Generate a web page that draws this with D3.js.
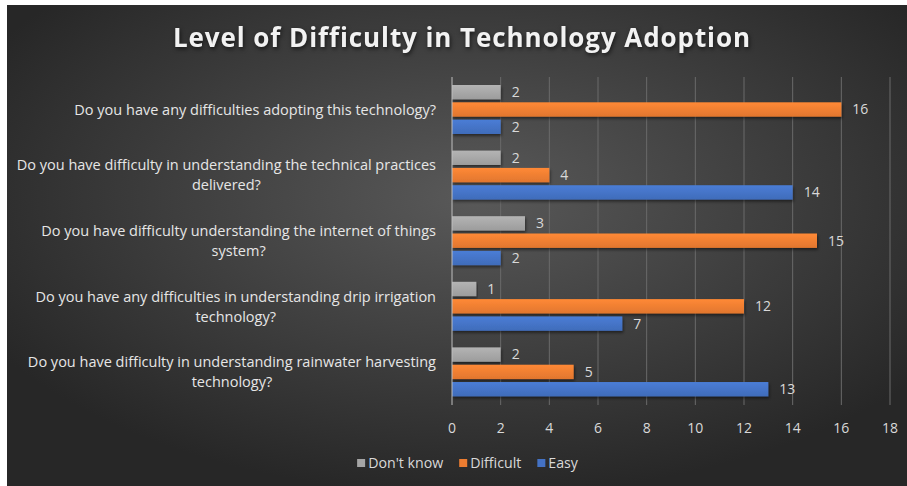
<!DOCTYPE html>
<html>
<head>
<meta charset="utf-8">
<script src="https://cdn.jsdelivr.net/npm/d3@7"></script>
<style>
  html, body { margin: 0; padding: 0; background: #fff; }
  svg { position: absolute; left: 7px; top: 5px; }
  text { font-family: "Open Sans", Lato, sans-serif; }
</style>
</head>
<body>
<svg width="900" height="481"></svg>
<script>
'use strict'

const categories = [
    'Do you have any difficulties adopting this technology?',
    'Do you have difficulty in understanding the technical practices delivered?',
    'Do you have difficulty understanding the internet of things system?',
    'Do you have any difficulties in understanding drip irrigation technology?',
    'Do you have difficulty in understanding rainwater harvesting technology?'
]
const series = ["Don't know", 'Difficult', 'Easy']
const dontKnow = [2, 2, 3, 1, 2]
const difficult = [16, 4, 15, 12, 5]
const easy = [2, 14, 2, 7, 13]
const xTicks = [0, 2, 4, 6, 8, 10, 12, 14, 16, 18]
const colors = ['#a5a5a5', '#ed7d31', '#4472c4']

const values = [dontKnow, difficult, easy]
const rows = categories.map((c, i) => ({ cat: c, vals: series.map((s, j) => ({ s, j, v: values[j][i] })) }))

const svg = d3.select('svg')
const width = +svg.attr('width')
const height = +svg.attr('height')
const ox = 7, oy = 5   // svg offset on the page

const defs = svg.append('defs')
const bg = defs.append('radialGradient').attr('id', 'bg')
    .attr('cx', '52%').attr('cy', '40%').attr('r', '62%')
bg.append('stop').attr('offset', '0%').attr('stop-color', '#595959')
bg.append('stop').attr('offset', '100%').attr('stop-color', '#272727')

const shadow = defs.append('filter').attr('id', 'shadow')
    .attr('x', '-5%').attr('y', '-30%').attr('width', '110%').attr('height', '170%')
shadow.append('feDropShadow').attr('dx', 1).attr('dy', 2).attr('stdDeviation', 1.5)
    .attr('flood-color', '#000').attr('flood-opacity', 0.5)

colors.forEach((c, i) => {
    const g = defs.append('linearGradient').attr('id', 'bar' + i)
        .attr('x1', 0).attr('y1', 0).attr('x2', 0).attr('y2', 1)
    g.append('stop').attr('offset', '0%').attr('stop-color', d3.color(c).brighter(0.25))
    g.append('stop').attr('offset', '100%').attr('stop-color', d3.color(c).darker(0.15))
})

svg.append('rect').attr('width', width).attr('height', height).attr('fill', 'url(#bg)')

// title, spaced out to the reference width
const title = svg.append('text')
    .attr('x', 173 - ox)
    .attr('y', 47 - oy)
    .attr('fill', '#f2f2f2')
    .attr('font-size', 26)
    .attr('font-weight', 'bold')
    .style('filter', 'drop-shadow(1px 2px 2px rgba(0,0,0,0.6))')
    .text('Level of Difficulty in Technology Adoption')
const tw = title.node().getComputedTextLength()
const tn = title.text().length
title.attr('letter-spacing', (577 - tw) / (tn - 1))

const x = d3.scaleLinear().domain([0, 18]).range([452 - ox, 890 - ox])
const y0 = d3.scaleBand().domain(categories).range([77 - oy, 405 - oy])
const y1 = d3.scaleBand().domain(series).range([8, 57]).paddingInner(0.17)

// gridlines
svg.append('g')
    .selectAll('line')
    .data(xTicks.slice(1))
    .enter()
    .append('line')
    .attr('x1', d => x(d)).attr('x2', d => x(d))
    .attr('y1', y0.range()[0]).attr('y2', y0.range()[1])
    .attr('stroke', '#6a6a6a')
    .attr('stroke-width', 1)

const group = svg.append('g')
    .selectAll('g')
    .data(rows)
    .enter()
    .append('g')
    .attr('transform', d => `translate(0,${y0(d.cat)})`)

group.selectAll('rect')
    .data(d => d.vals)
    .enter()
    .append('rect')
    .attr('x', x(0))
    .attr('y', d => y1(d.s))
    .attr('width', d => x(d.v) - x(0))
    .attr('height', y1.bandwidth())
    .attr('fill', d => `url(#bar${d.j})`)
    .attr('filter', 'url(#shadow)')

group.selectAll('text.val')
    .data(d => d.vals)
    .enter()
    .append('text')
    .attr('class', 'val')
    .attr('x', d => x(d.v) + 11)
    .attr('y', d => y1(d.s) + y1.bandwidth() / 2)
    .attr('dy', '0.35em')
    .attr('fill', '#d9d9d9')
    .attr('font-size', 14)
    .text(d => d.v)

// axis line
svg.append('line')
    .attr('x1', x(0)).attr('x2', x(0))
    .attr('y1', y0.range()[0]).attr('y2', y0.range()[1])
    .attr('stroke', '#bfbfbf')

// x tick labels
svg.append('g')
    .selectAll('text')
    .data(xTicks)
    .enter()
    .append('text')
    .attr('x', d => x(d))
    .attr('y', 428 - oy)
    .attr('dy', '0.35em')
    .attr('text-anchor', 'middle')
    .attr('fill', '#d9d9d9')
    .attr('font-size', 14)
    .text(d => d)

// category labels, wrapped and centred like Excel
const labelRight = 436 - ox
const maxW = 428
group.each(function (d) {
    const g = d3.select(this)
    const t = g.append('text')
        .attr('fill', '#e6e6e6')
        .attr('font-size', 14.5)
        .attr('text-anchor', 'middle')
    const words = d.cat.split(' ')
    const lines = []
    let line = []
    const probe = t.append('tspan')
    words.forEach(w => {
        probe.text(line.concat(w).join(' '))
        if (probe.node().getComputedTextLength() > maxW && line.length) {
            lines.push(line.join(' '))
            line = [w]
        } else {
            line.push(w)
        }
    })
    lines.push(line.join(' '))
    probe.remove()
    let widest = 0
    lines.forEach(l => {
        const s = t.append('tspan').text(l)
        widest = Math.max(widest, s.node().getComputedTextLength())
        s.remove()
    })
    const cx = labelRight - widest / 2
    const mid = y0.bandwidth() / 2
    const lh = 20
    lines.forEach((l, i) => {
        t.append('tspan')
            .attr('x', cx)
            .attr('y', mid + (i - (lines.length - 1) / 2) * lh)
            .attr('dy', '0.35em')
            .text(l)
    })
})

// legend
const legend = svg.append('g').attr('transform', `translate(0,${463 - oy})`)
const items = legend.selectAll('g')
    .data(series)
    .enter()
    .append('g')
items.append('rect')
    .attr('y', -4).attr('width', 8).attr('height', 8)
    .attr('fill', (d, i) => colors[i])
items.append('text')
    .attr('x', 11)
    .attr('dy', '0.35em')
    .attr('fill', '#d9d9d9')
    .attr('font-size', 14.2)
    .text(d => d)
let lx = 0
const pos = []
items.each(function () {
    pos.push(lx)
    lx += this.getBBox().width + 16
})
lx -= 16
const start = 468 - ox - lx / 2
items.attr('transform', (d, i) => `translate(${start + pos[i]},0)`)
</script>
</body>
</html>
